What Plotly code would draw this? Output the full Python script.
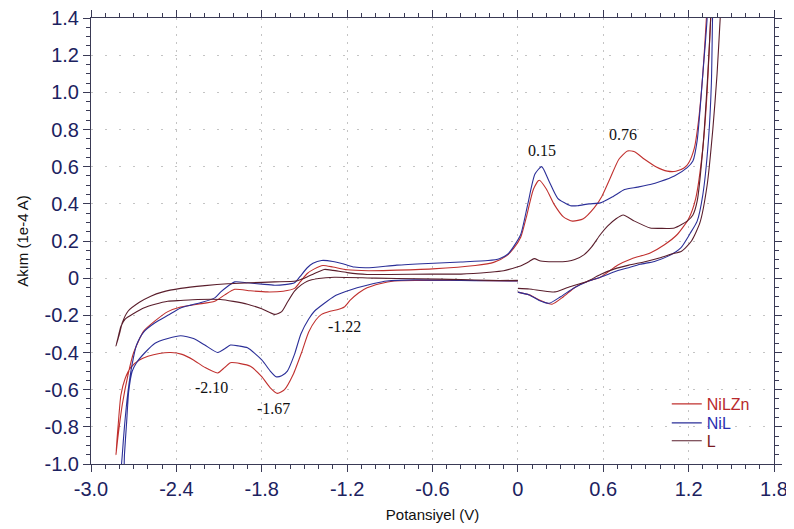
import plotly.graph_objects as go

# ---------------- data ----------------
x_tick_vals = [-3.0, -2.4, -1.8, -1.2, -0.6, 0.0, 0.6, 1.2, 1.8]
x_tick_text = ["-3.0", "-2.4", "-1.8", "-1.2", "-0.6", "0", "0.6", "1.2", "1.8"]
y_tick_vals = [1.4, 1.2, 1.0, 0.8, 0.6, 0.4, 0.2, 0.0, -0.2, -0.4, -0.6, -0.8, -1.0]
y_tick_text = ["1.4", "1.2", "1.0", "0.8", "0.6", "0.4", "0.2", "0", "-0.2", "-0.4", "-0.6", "-0.8", "-1.0"]

series_names = ["NiLZn", "NiL", "L"]

# NiLZn (red)
nilzn_v = [0.00, 0.08, 0.16, 0.24, 0.32, 0.40, 0.49, 0.58, 0.70, 0.80, 0.93, 1.03, 1.12, 1.20, 1.25, 1.30, 1.33, 1.355, 1.37,
           1.34, 1.325, 1.30, 1.27, 1.24, 1.20, 1.17, 1.11, 1.05, 0.97, 0.89, 0.82, 0.77, 0.71, 0.65, 0.59, 0.536, 0.46, 0.384,
           0.32, 0.255, 0.20, 0.15, 0.11, 0.06, 0.02, -0.03, -0.08, -0.17, -0.30, -0.60, -0.90, -1.05, -1.20, -1.30, -1.37,
           -1.43, -1.48, -1.53, -1.57, -1.65, -1.76, -1.88, -1.99, -2.06, -2.13, -2.25, -2.37, -2.46, -2.55, -2.63, -2.70,
           -2.74, -2.78, -2.81, -2.825,
           -2.81, -2.79, -2.76, -2.72, -2.66, -2.60, -2.52, -2.44, -2.36, -2.28, -2.20, -2.11, -2.06, -2.02, -1.95, -1.88,
           -1.80, -1.74, -1.69, -1.64, -1.58, -1.52, -1.47, -1.42, -1.38, -1.32, -1.27, -1.22, -1.18, -1.12, -1.06, -0.97,
           -0.87, -0.70, -0.40, -0.20, 0.00]
nilzn_i = [-0.075, -0.09, -0.12, -0.14, -0.10, -0.05, -0.016, 0.005, 0.07, 0.105, 0.136, 0.18, 0.235, 0.32, 0.43, 0.70, 1.00, 1.40, 1.65,
           1.65, 1.40, 1.10, 0.85, 0.70, 0.62, 0.594, 0.575, 0.576, 0.60, 0.64, 0.68, 0.684, 0.64, 0.54, 0.44, 0.378, 0.32, 0.307,
           0.33, 0.397, 0.48, 0.527, 0.48, 0.33, 0.22, 0.16, 0.12, 0.085, 0.068, 0.05, 0.042, 0.04, 0.045, 0.06, 0.068,
           0.05, 0.025, -0.02, -0.055, -0.07, -0.074, -0.068, -0.06, -0.09, -0.124, -0.14, -0.155, -0.18, -0.23, -0.285, -0.40,
           -0.52, -0.68, -0.85, -0.95,
           -0.80, -0.63, -0.54, -0.48, -0.44, -0.42, -0.405, -0.40, -0.41, -0.44, -0.48, -0.51, -0.48, -0.455, -0.46, -0.474,
           -0.53, -0.59, -0.62, -0.60, -0.52, -0.40, -0.29, -0.225, -0.195, -0.178, -0.17, -0.155, -0.12, -0.08, -0.052, -0.03,
           -0.015, -0.012, -0.012, -0.014, -0.015]

# NiL (blue)
nil_v = [0.00, 0.08, 0.15, 0.22, 0.30, 0.40, 0.49, 0.60, 0.68, 0.77, 0.86, 0.96, 1.06, 1.145, 1.21, 1.26, 1.30, 1.34, 1.36, 1.368, 1.375,
         1.335, 1.33, 1.30, 1.26, 1.23, 1.19, 1.10, 1.00, 0.93, 0.84, 0.75, 0.67, 0.58, 0.50, 0.42, 0.37, 0.28, 0.22, 0.167,
         0.12, 0.07, 0.02, -0.03, -0.07, -0.13, -0.21, -0.40, -0.63, -0.85, -1.06, -1.15, -1.22, -1.30, -1.38, -1.44, -1.48,
         -1.53, -1.57, -1.64, -1.71, -1.80, -1.90, -1.99, -2.05, -2.09, -2.13, -2.22, -2.30, -2.37, -2.46, -2.55, -2.63,
         -2.68, -2.71, -2.74, -2.765, -2.78, -2.79,
         -2.775, -2.765, -2.75, -2.735, -2.71, -2.68, -2.62, -2.55, -2.46, -2.37, -2.28, -2.20, -2.11, -2.06, -2.02, -1.96,
         -1.90, -1.80, -1.74, -1.70, -1.66, -1.62, -1.57, -1.525, -1.47, -1.43, -1.36, -1.29, -1.21, -1.13, -1.02, -0.92,
         -0.73, -0.40, -0.20, 0.00]
nil_i = [-0.075, -0.09, -0.12, -0.135, -0.10, -0.05, -0.018, 0.01, 0.035, 0.055, 0.075, 0.09, 0.12, 0.163, 0.24, 0.307, 0.45, 0.75, 1.05, 1.40, 1.65,
         1.65, 1.40, 1.10, 0.74, 0.63, 0.595, 0.55, 0.52, 0.504, 0.49, 0.477, 0.44, 0.405, 0.40, 0.39, 0.39, 0.43, 0.52, 0.60,
         0.56, 0.40, 0.235, 0.17, 0.13, 0.105, 0.095, 0.087, 0.079, 0.07, 0.056, 0.06, 0.075, 0.09, 0.095, 0.08, 0.056,
         0.01, -0.025, -0.035, -0.038, -0.032, -0.025, -0.02, -0.05, -0.075, -0.106, -0.13, -0.145, -0.16, -0.20, -0.24, -0.29,
         -0.36, -0.46, -0.61, -0.80, -0.95, -1.10,
         -1.10, -0.95, -0.78, -0.61, -0.50, -0.455, -0.40, -0.35, -0.325, -0.31, -0.325, -0.36, -0.40, -0.38, -0.36, -0.365,
         -0.375, -0.44, -0.50, -0.53, -0.525, -0.50, -0.41, -0.30, -0.22, -0.178, -0.135, -0.097, -0.072, -0.052, -0.03, -0.015,
         -0.009, -0.012, -0.014, -0.015]

# L (dark maroon)
l_v = [0.00, 0.08, 0.17, 0.26, 0.35, 0.49, 0.58, 0.68, 0.78, 0.90, 1.00, 1.08, 1.15, 1.22, 1.28, 1.33, 1.37, 1.40, 1.422, 1.44,
       1.365, 1.355, 1.335, 1.30, 1.26, 1.23, 1.19, 1.10, 1.00, 0.93, 0.82, 0.74, 0.69, 0.63, 0.58, 0.52, 0.466, 0.40, 0.35,
       0.25, 0.16, 0.115, 0.08, 0.03, 0.00, -0.10, -0.20, -0.40, -0.61, -0.90, -1.06, -1.20, -1.30, -1.36, -1.43, -1.50,
       -1.56, -1.71, -1.88, -2.04, -2.20, -2.37, -2.50, -2.58, -2.66, -2.74, -2.78, -2.80, -2.825,
       -2.81, -2.79, -2.76, -2.70, -2.63, -2.55, -2.46, -2.37, -2.25, -2.09, -2.00, -1.90, -1.80, -1.71, -1.66, -1.62,
       -1.57, -1.52, -1.48, -1.40, -1.29, -1.00, -0.70, -0.40, -0.20, 0.00]
l_i = [-0.055, -0.058, -0.068, -0.074, -0.05, -0.016, 0.02, 0.05, 0.07, 0.09, 0.11, 0.13, 0.145, 0.20, 0.30, 0.50, 0.80, 1.10, 1.40, 1.65,
       1.65, 1.40, 1.10, 0.70, 0.414, 0.34, 0.307, 0.27, 0.268, 0.27, 0.307, 0.34, 0.32, 0.28, 0.235, 0.17, 0.127, 0.10, 0.091,
       0.088, 0.092, 0.105, 0.09, 0.07, 0.062, 0.04, 0.032, 0.022, 0.022, 0.02, 0.02, 0.03, 0.042, 0.047, 0.025, 0.0,
       -0.015, -0.02, -0.025, -0.03, -0.04, -0.055, -0.075, -0.097, -0.13, -0.178, -0.24, -0.30, -0.366,
       -0.32, -0.26, -0.22, -0.19, -0.16, -0.14, -0.124, -0.12, -0.115, -0.115, -0.125, -0.14, -0.165, -0.195, -0.18, -0.13,
       -0.07, -0.035, -0.016, -0.002, 0.005, 0.0, -0.003, -0.008, -0.012, -0.012]

peak_labels = ["0.15", "0.76", "-1.22", "-2.10", "-1.67"]
peak_label_v = [0.17, 0.74, -1.215, -2.15, -1.72]
peak_label_i = [0.685, 0.775, -0.258, -0.59, -0.70]

# ---------------- styling ----------------
line_colors = ["#c0302e", "#2b2f98", "#5a1e2c"]
text_colors = ["#b8282c", "#2a2fb0", "#7a1a22"]
legend_ids = ["legend", "legend2", "legend3"]
legend_y = [0.1345, 0.092, 0.052]
axis_color = "#3a3a55"
tick_font_color = "#1c2260"
grid_color = "#c4c4c4"

fig = go.Figure()
for name, xs, ys, lc, tc, lg in zip(series_names, [nilzn_v, nil_v, l_v], [nilzn_i, nil_i, l_i],
                                    line_colors, text_colors, legend_ids):
    fig.add_trace(go.Scatter(
        x=xs, y=ys, mode="lines",
        line=dict(color=lc, width=1.1, shape="spline", smoothing=0.6),
        name=f"<span style='color:{tc}'>{name}</span>",
        legend=lg,
        hoverinfo="skip",
    ))

for t, xv, yv in zip(peak_labels, peak_label_v, peak_label_i):
    fig.add_annotation(x=xv, y=yv, text=t, showarrow=False,
                       font=dict(family="Liberation Serif, Times New Roman, serif", size=16, color="#111111"))

legend_common = dict(x=0.843, xanchor="left", yanchor="middle", bgcolor="rgba(0,0,0,0)",
                     font=dict(family="Liberation Sans, Arial, sans-serif", size=16), itemwidth=30)

fig.update_layout(
    width=794, height=529,
    margin=dict(l=83, r=28, t=10, b=73),
    paper_bgcolor="white", plot_bgcolor="white",
    showlegend=True,
    legend=dict(y=legend_y[0], **legend_common),
    legend2=dict(y=legend_y[1], **legend_common),
    legend3=dict(y=legend_y[2], **legend_common),
    font=dict(family="Liberation Sans, Arial, sans-serif"),
)

fig.update_xaxes(
    range=[-3.0, 1.8], tickmode="array", tickvals=x_tick_vals, ticktext=x_tick_text,
    automargin=False, ticklabeloverflow="allow",
    ticks="outside", ticklen=7, tickwidth=1, tickcolor=axis_color,
    showline=True, linecolor=axis_color, linewidth=1, mirror="ticks",
    showgrid=True, gridcolor=grid_color, griddash="2px,6px", gridwidth=1,
    zeroline=False,
    tickfont=dict(family="Liberation Sans, Arial, sans-serif", size=20, color=tick_font_color),
    minor=dict(dtick=0.1, tick0=-3.0, ticks="outside", ticklen=4, tickcolor=axis_color, showgrid=False),
    title=dict(text="Potansiyel (V)", font=dict(size=15, color="#111111"), standoff=10),
)
fig.update_yaxes(
    range=[-1.0, 1.4], tickmode="array", tickvals=y_tick_vals, ticktext=y_tick_text,
    automargin=False, ticklabeloverflow="allow",
    ticks="outside", ticklen=7, tickwidth=1, tickcolor=axis_color,
    showline=True, linecolor=axis_color, linewidth=1, mirror="ticks",
    showgrid=True, gridcolor=grid_color, griddash="2px,12px", gridwidth=1,
    zeroline=False,
    tickfont=dict(family="Liberation Sans, Arial, sans-serif", size=20, color=tick_font_color),
    minor=dict(dtick=0.05, tick0=-1.0, ticks="outside", ticklen=4, tickcolor=axis_color, showgrid=False),
    title=dict(text="Akım (1e-4 A)", font=dict(size=15, color="#111111"), standoff=12),
)

fig.write_html("out.html")
